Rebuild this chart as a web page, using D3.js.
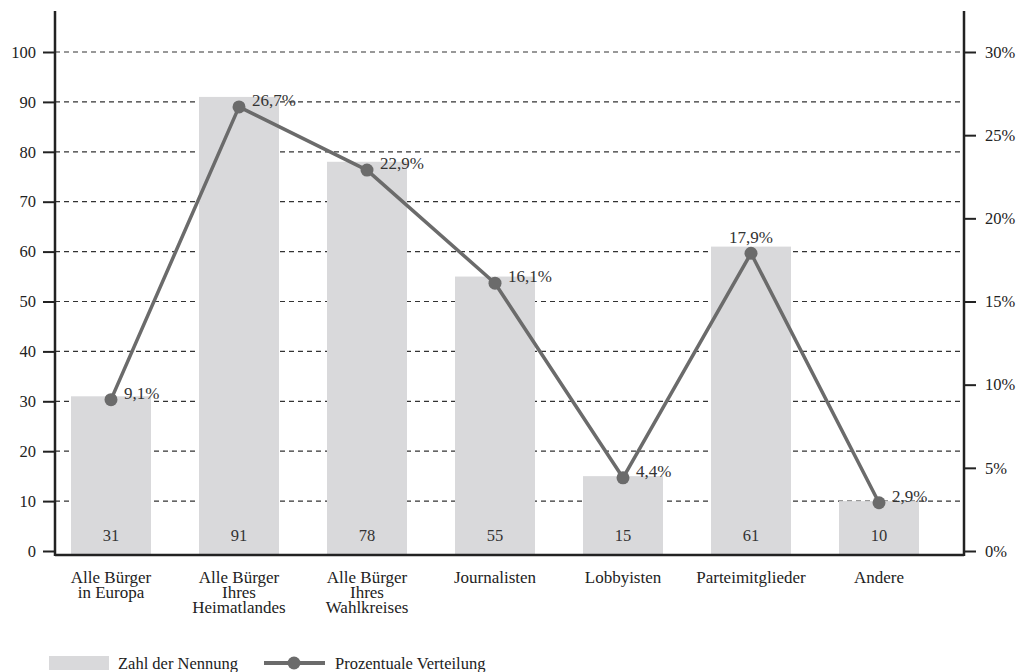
<!DOCTYPE html>
<html>
<head>
<meta charset="utf-8">
<script src="https://cdn.jsdelivr.net/npm/d3@7"></script>
<style>
  html, body { margin: 0; padding: 0; background: #fff; }
  svg { display: block; }
  svg text { font-family: "Liberation Serif", serif !important; }
</style>
</head>
<body>
<svg id="chart" width="1019" height="672"></svg>
<script>
// Categories (multi-line labels split on "\n")
const categories = [
  "Alle Bürger\nin Europa",
  "Alle Bürger\nIhres\nHeimatlandes",
  "Alle Bürger\nIhres\nWahlkreises",
  "Journalisten",
  "Lobbyisten",
  "Parteimitglieder",
  "Andere"
];
// Number of mentions (bars, left axis)
const counts = [31, 91, 78, 55, 15, 61, 10];
// Percentage distribution (line, right axis)
const shares = [9.1, 26.7, 22.9, 16.1, 4.4, 17.9, 2.9];
// Axis ticks
const countTicks = [0, 10, 20, 30, 40, 50, 60, 70, 80, 90, 100];
const shareTicks = [0, 5, 10, 15, 20, 25, 30];
const seriesNames = ["Zahl der Nennung", "Prozentuale Verteilung"];

const svg = d3.select("#chart");
const barColor = "#d9d9db";
const lineColor = "#6b6b6b";
const inkColor = "#222";

const axisLeftX = 55, axisRightX = 964, axisTop = 11, baseY = 555;

const x = d3.scaleBand()
  .domain(categories)
  .range([47, 943])
  .paddingInner(0.375)
  .paddingOuter(0.1875);

const yCount = d3.scaleLinear().domain([0, 100]).range([551, 52]);
const yShare = d3.scaleLinear().domain([0, 30]).range([551, 52]);

// Dashed gridlines
svg.append("g")
  .selectAll("line")
  .data(countTicks.filter(d => d > 0))
  .join("line")
  .attr("x1", axisLeftX).attr("x2", axisRightX)
  .attr("y1", d => yCount(d)).attr("y2", d => yCount(d))
  .attr("stroke", "#333")
  .attr("stroke-width", 1.2)
  .attr("stroke-dasharray", "5,4");

// Bars
svg.append("g")
  .selectAll("rect")
  .data(counts)
  .join("rect")
  .attr("x", (d, i) => x(categories[i]))
  .attr("width", x.bandwidth())
  .attr("y", d => yCount(d))
  .attr("height", d => baseY - yCount(d))
  .attr("fill", barColor);

// Values inside bars
svg.append("g")
  .selectAll("text")
  .data(counts)
  .join("text")
  .attr("x", (d, i) => x(categories[i]) + x.bandwidth() / 2)
  .attr("y", 541)
  .attr("text-anchor", "middle")
  .style("font-size", "16.5px")
  .attr("fill", "#333")
  .text(d => d);

// Left axis
const leftAxis = d3.axisLeft(yCount).tickValues(countTicks).tickSize(12).tickPadding(7);
const gL = svg.append("g").attr("transform", `translate(${axisLeftX},0)`).call(leftAxis);
gL.select(".domain").remove();
gL.selectAll(".tick line").attr("stroke", inkColor).attr("stroke-width", 2);
gL.selectAll(".tick text").style("font-size", "16.5px").attr("fill", inkColor);
gL.append("line").attr("x1", 0).attr("x2", 0).attr("y1", axisTop).attr("y2", baseY + 1)
  .attr("stroke", inkColor).attr("stroke-width", 2.5);

// Right axis
const rightAxis = d3.axisRight(yShare).tickValues(shareTicks).tickSize(12).tickPadding(9)
  .tickFormat(d => d + "%");
const gR = svg.append("g").attr("transform", `translate(${axisRightX},0)`).call(rightAxis);
gR.select(".domain").remove();
gR.selectAll(".tick line").attr("stroke", inkColor).attr("stroke-width", 2);
gR.selectAll(".tick text").style("font-size", "16.5px").attr("fill", inkColor);
gR.append("line").attr("x1", 0).attr("x2", 0).attr("y1", axisTop).attr("y2", baseY + 1)
  .attr("stroke", inkColor).attr("stroke-width", 2.5);

// Bottom baseline
svg.append("line")
  .attr("x1", axisLeftX).attr("x2", axisRightX)
  .attr("y1", baseY).attr("y2", baseY)
  .attr("stroke", inkColor).attr("stroke-width", 2.5);

// Category labels
const catG = svg.append("g")
  .selectAll("text")
  .data(categories)
  .join("text")
  .attr("x", d => x(d) + x.bandwidth() / 2)
  .attr("y", 583)
  .attr("text-anchor", "middle")
  .style("font-size", "17px")
  .attr("fill", inkColor);
catG.selectAll("tspan")
  .data(d => d.split("\n").map(s => ({ s, parent: d })))
  .join("tspan")
  .attr("x", d => x(d.parent) + x.bandwidth() / 2)
  .attr("dy", (d, i) => i === 0 ? 0 : 15)
  .text(d => d.s);

// Percentage line
const pts = shares.map((v, i) => [x(categories[i]) + x.bandwidth() / 2, yShare(v)]);
svg.append("path")
  .attr("d", d3.line()(pts))
  .attr("fill", "none")
  .attr("stroke", lineColor)
  .attr("stroke-width", 3.5)
  .attr("stroke-linejoin", "round");

svg.append("g")
  .selectAll("circle")
  .data(pts)
  .join("circle")
  .attr("cx", d => d[0]).attr("cy", d => d[1])
  .attr("r", 6.5)
  .attr("fill", lineColor);

// Percentage labels: beside the point, or above it for the secondary peak
const labelAbove = new Set(["Parteimitglieder"]);
const fmt = v => v.toFixed(1).replace(".", ",") + "%";
svg.append("g")
  .selectAll("text")
  .data(shares)
  .join("text")
  .attr("x", (d, i) => labelAbove.has(categories[i]) ? pts[i][0] : pts[i][0] + 13)
  .attr("y", (d, i) => labelAbove.has(categories[i]) ? pts[i][1] - 10 : pts[i][1] - 1)
  .attr("text-anchor", (d, i) => labelAbove.has(categories[i]) ? "middle" : "start")
  .style("font-size", "17px")
  .attr("fill", "#333")
  .text(fmt);

// Legend
const lg = svg.append("g");
lg.append("rect").attr("x", 49).attr("y", 656).attr("width", 60).attr("height", 14).attr("fill", barColor);
lg.append("text").attr("x", 118).attr("y", 669).style("font-size", "16.5px").attr("fill", inkColor).text(seriesNames[0]);
lg.append("line").attr("x1", 264).attr("x2", 325).attr("y1", 663).attr("y2", 663)
  .attr("stroke", lineColor).attr("stroke-width", 4);
lg.append("circle").attr("cx", 294).attr("cy", 663).attr("r", 6.5).attr("fill", lineColor);
lg.append("text").attr("x", 335).attr("y", 669).style("font-size", "16.5px").attr("fill", inkColor).text(seriesNames[1]);
</script>
</body>
</html>
